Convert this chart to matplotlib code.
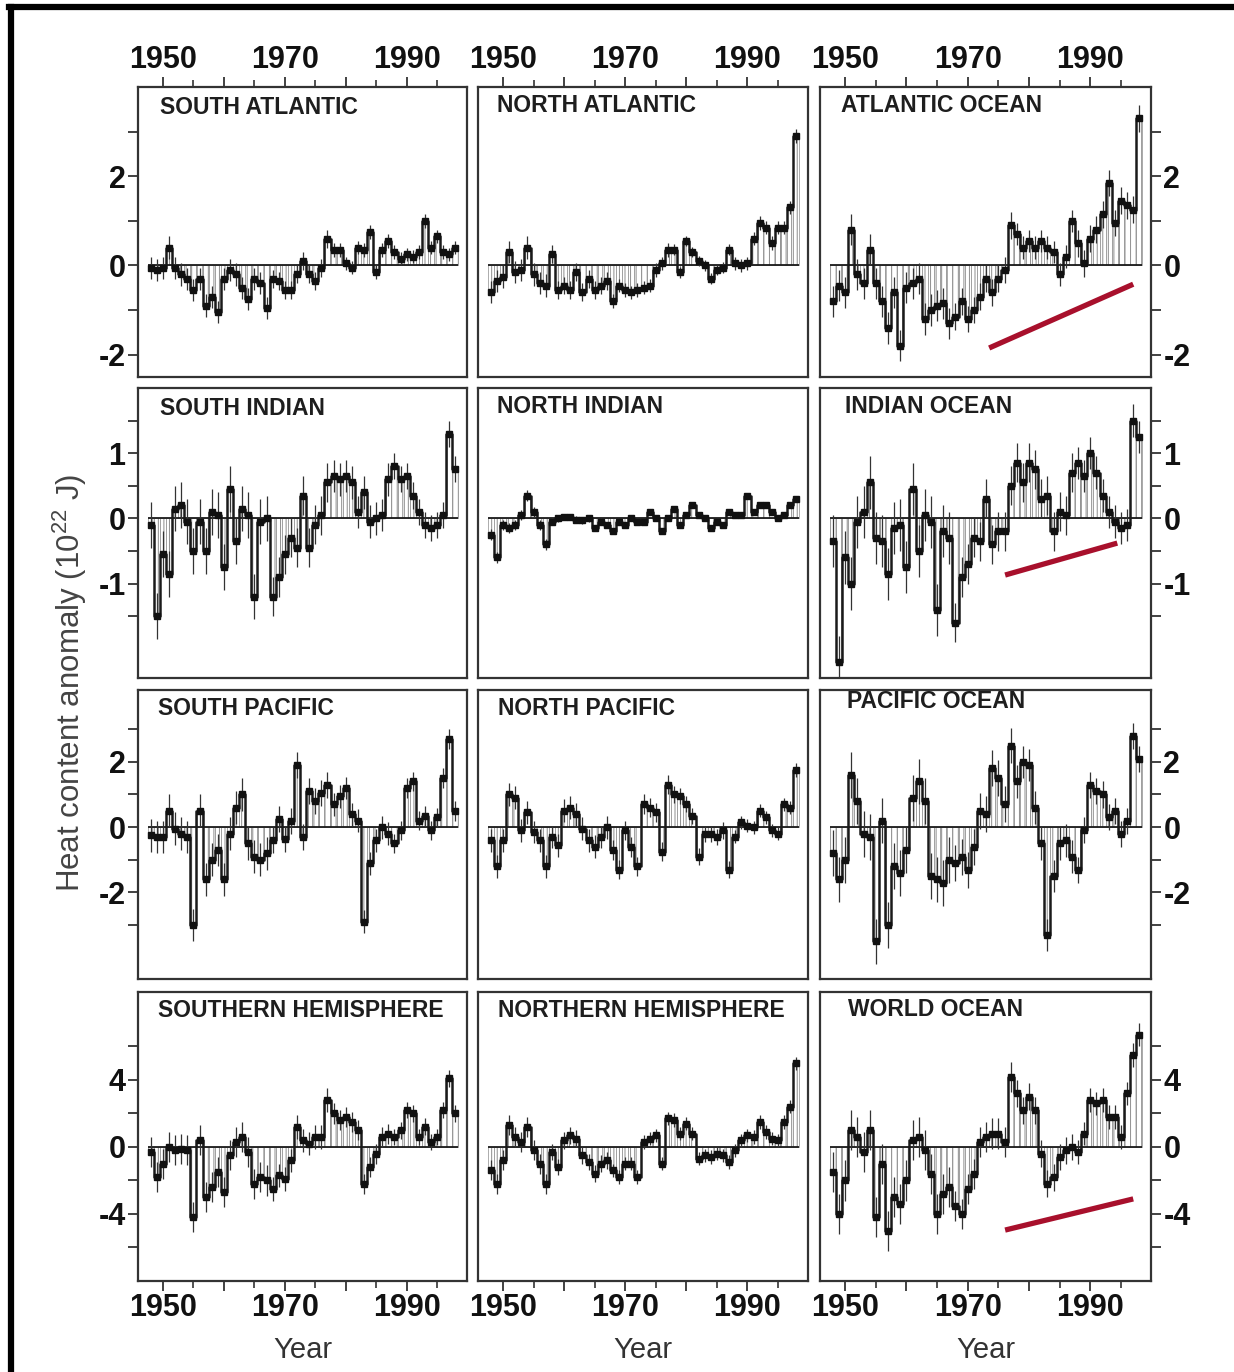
import numpy as np
import matplotlib
matplotlib.use("Agg")
import matplotlib.pyplot as plt
from matplotlib.ticker import MultipleLocator, FuncFormatter, FixedLocator
from matplotlib.lines import Line2D

plt.rcParams['font.family'] = ['Liberation Sans', 'DejaVu Sans']
plt.rcParams['mathtext.fontset'] = 'custom'
plt.rcParams['mathtext.rm'] = 'Liberation Sans'
plt.rcParams['hatch.linewidth'] = 0.7

# ---------------- data (annual heat content anomaly, 10^22 J) ----------------
years = list(range(1948, 1999))

south_atlantic = [-0.05, -0.1, -0.05, 0.4, -0.05, -0.2, -0.3, -0.55, -0.3, -0.9,
                  -0.7, -1.05, -0.3, -0.1, -0.2, -0.5, -0.75, -0.3, -0.4, -0.95,
                  -0.3, -0.35, -0.55, -0.55, -0.2, 0.1, -0.2, -0.35, -0.05, 0.6,
                  0.35, 0.35, 0.05, -0.05, 0.4, 0.35, 0.75, -0.15, 0.35, 0.55,
                  0.3, 0.15, 0.25, 0.2, 0.3, 1.0, 0.4, 0.65, 0.3, 0.25, 0.4]
north_atlantic = [-0.6, -0.35, -0.25, 0.3, -0.15, -0.1, 0.4, -0.2, -0.4, -0.45,
                  0.25, -0.55, -0.45, -0.55, -0.15, -0.6, -0.3, -0.55, -0.45, -0.35,
                  -0.8, -0.45, -0.55, -0.6, -0.55, -0.5, -0.45, -0.1, 0.05, 0.35,
                  0.35, -0.15, 0.55, 0.3, 0.1, 0.0, -0.3, -0.1, -0.05, 0.35,
                  0.05, 0.0, 0.05, 0.6, 0.95, 0.85, 0.5, 0.85, 0.85, 1.3, 2.9]
atlantic_ocean = [-0.8, -0.45, -0.6, 0.8, -0.2, -0.4, 0.35, -0.4, -0.8, -1.4,
                  -0.6, -1.8, -0.5, -0.4, -0.3, -1.2, -1.0, -0.9, -0.85, -1.3,
                  -1.15, -0.8, -1.2, -1.0, -0.7, -0.3, -0.6, -0.3, -0.1, 0.9,
                  0.7, 0.4, 0.55, 0.4, 0.55, 0.4, 0.3, -0.2, 0.2, 1.0,
                  0.5, 0.05, 0.6, 0.8, 1.15, 1.85, 0.95, 1.45, 1.35, 1.25, 3.3]
south_indian = [-0.1, -1.5, -0.55, -0.85, 0.15, 0.2, -0.05, -0.5, -0.05, -0.5,
                0.1, 0.05, -0.75, 0.45, -0.35, 0.15, 0.05, -1.2, -0.05, 0.0,
                -1.2, -0.9, -0.55, -0.3, -0.45, 0.35, -0.45, -0.1, 0.05, 0.55,
                0.65, 0.6, 0.65, 0.55, 0.1, 0.4, -0.05, 0.0, 0.05, 0.6,
                0.8, 0.6, 0.65, 0.35, 0.1, -0.1, -0.15, -0.1, 0.05, 1.3, 0.75]
north_indian = [-0.25, -0.6, -0.1, -0.15, -0.1, 0.05, 0.35, 0.1, -0.1, -0.4,
                -0.05, 0.0, 0.02, 0.02, -0.02, -0.03, 0.0, -0.15, -0.05, -0.1,
                -0.2, -0.05, -0.1, 0.0, -0.05, -0.05, 0.1, 0.0, -0.2, 0.0,
                0.15, -0.1, 0.05, 0.2, 0.05, 0.0, -0.15, -0.05, -0.1, 0.1,
                0.05, 0.05, 0.35, 0.1, 0.2, 0.2, 0.1, 0.0, 0.05, 0.2, 0.3]
indian_ocean = [-0.35, -2.2, -0.6, -1.0, -0.05, 0.1, 0.55, -0.3, -0.35, -0.85,
                -0.15, -0.1, -0.75, 0.45, -0.5, 0.05, -0.05, -1.4, -0.2, -0.3,
                -1.6, -0.9, -0.7, -0.3, -0.35, 0.3, -0.4, -0.2, -0.2, 0.5,
                0.85, 0.55, 0.85, 0.75, 0.3, 0.35, -0.2, 0.1, 0.05, 0.7,
                0.85, 0.65, 1.0, 0.7, 0.35, 0.1, -0.05, -0.15, -0.1, 1.5, 1.25]
south_pacific = [-0.25, -0.3, -0.3, 0.5, -0.05, -0.2, -0.3, -3.0, 0.5, -1.6,
                 -1.0, -0.7, -1.6, -0.2, 0.6, 1.0, -0.5, -0.9, -1.0, -0.8,
                 -0.4, 0.25, -0.35, 0.2, 1.9, -0.3, 1.1, 0.8, 1.05, 1.3,
                 0.7, 0.95, 1.2, 0.4, 0.2, -2.9, -1.1, -0.4, 0.0, -0.2,
                 -0.5, -0.1, 1.2, 1.4, 0.2, 0.35, -0.1, 0.3, 1.5, 2.7, 0.5]
north_pacific = [-0.4, -1.2, -0.4, 1.0, 0.9, -0.1, 0.45, -0.15, -0.4, -1.2,
                 -0.3, -0.55, 0.5, 0.6, 0.4, -0.05, -0.4, -0.6, -0.3, 0.0,
                 -0.7, -1.3, -0.1, -0.6, -1.2, 0.7, 0.6, 0.45, -0.75, 1.3,
                 1.0, 0.95, 0.7, 0.35, -0.9, -0.2, -0.2, -0.3, -0.1, -1.3,
                 -0.3, 0.15, 0.05, 0.0, 0.5, 0.3, -0.1, -0.2, 0.7, 0.6, 1.75]
pacific_ocean = [-0.8, -1.6, -1.0, 1.6, 0.8, -0.2, -0.3, -3.5, 0.2, -3.0,
                 -1.2, -1.4, -0.7, 0.9, 1.4, 0.8, -1.5, -1.6, -1.7, -1.0,
                 -1.1, -0.9, -1.3, -0.6, 0.5, 0.4, 1.8, 1.5, 0.7, 2.5,
                 1.4, 2.0, 1.9, 0.6, -0.5, -3.3, -1.5, -0.5, -0.4, -0.9,
                 -1.3, -0.1, 1.3, 1.1, 1.0, 0.3, 0.5, -0.2, 0.2, 2.8, 2.1]
southern_hemisphere = [-0.3, -1.8, -1.0, 0.0, -0.2, -0.1, -0.2, -4.2, 0.4, -3.0,
                       -2.4, -1.5, -2.7, -0.5, 0.3, 0.6, -0.3, -2.2, -1.8, -2.0,
                       -2.5, -1.7, -1.9, -0.8, 1.2, 0.4, 0.2, 0.6, 0.6, 2.8,
                       2.0, 1.6, 1.8, 1.5, 1.0, -2.2, -1.2, -0.4, 0.6, 0.8,
                       0.6, 1.0, 2.2, 2.0, 0.6, 1.2, 0.3, 0.6, 2.2, 4.1, 2.0]
northern_hemisphere = [-1.4, -2.2, -0.8, 1.3, 0.6, 0.3, 1.2, -0.2, -1.0, -2.2,
                       -0.3, -1.2, 0.4, 0.7, 0.5, -0.5, -0.9, -1.6, -1.0, -0.8,
                       -1.4, -1.8, -1.0, -1.0, -1.8, 0.3, 0.5, 0.7, -1.0, 1.7,
                       1.6, 0.8, 1.4, 0.8, -0.7, -0.5, -0.6, -0.4, -0.5, -0.9,
                       -0.2, 0.4, 0.7, 0.6, 1.5, 0.9, 0.5, 0.4, 1.5, 2.4, 5.0]
world_ocean = [-1.5, -4.0, -2.0, 1.0, 0.6, -0.3, 1.0, -4.2, -1.0, -5.0,
               -3.0, -3.4, -2.0, 0.4, 0.6, -0.2, -1.6, -4.0, -2.8, -2.4,
               -3.5, -4.0, -2.5, -1.6, 0.3, 0.6, 0.8, 0.8, 0.3, 4.2,
               3.2, 2.2, 3.0, 2.2, -0.4, -2.2, -1.8, -0.6, -0.2, 0.0,
               -0.3, 0.8, 2.8, 2.6, 2.8, 1.8, 1.8, 0.6, 3.2, 5.5, 6.7]

# typical error bar half-widths for the periods 1948-57, 58-67, 68-77, 78-87, 88-98
err_south_atlantic = [0.25, 0.25, 0.2, 0.15, 0.15]
err_north_atlantic = [0.25, 0.2, 0.15, 0.12, 0.15]
err_atlantic_ocean = [0.35, 0.35, 0.3, 0.25, 0.3]
err_south_indian = [0.35, 0.35, 0.3, 0.25, 0.2]
err_north_indian = [0.08, 0.05, 0.04, 0.04, 0.04]
err_indian_ocean = [0.4, 0.4, 0.3, 0.3, 0.25]
err_south_pacific = [0.5, 0.5, 0.4, 0.35, 0.3]
err_north_pacific = [0.35, 0.35, 0.3, 0.25, 0.2]
err_pacific_ocean = [0.7, 0.7, 0.55, 0.5, 0.4]
err_southern_hemisphere = [0.9, 0.9, 0.7, 0.6, 0.5]
err_northern_hemisphere = [0.6, 0.5, 0.4, 0.4, 0.4]
err_world_ocean = [1.2, 1.2, 0.9, 0.8, 0.7]

titles = ["SOUTH ATLANTIC", "NORTH ATLANTIC", "ATLANTIC OCEAN",
          "SOUTH INDIAN", "NORTH INDIAN", "INDIAN OCEAN",
          "SOUTH PACIFIC", "NORTH PACIFIC", "PACIFIC OCEAN",
          "SOUTHERN HEMISPHERE", "NORTHERN HEMISPHERE", "WORLD OCEAN"]
series = [south_atlantic, north_atlantic, atlantic_ocean,
          south_indian, north_indian, indian_ocean,
          south_pacific, north_pacific, pacific_ocean,
          southern_hemisphere, northern_hemisphere, world_ocean]
errors = [err_south_atlantic, err_north_atlantic, err_atlantic_ocean,
          err_south_indian, err_north_indian, err_indian_ocean,
          err_south_pacific, err_north_pacific, err_pacific_ocean,
          err_southern_hemisphere, err_northern_hemisphere, err_world_ocean]

# red trend annotations (year, value)
trend_atlantic = ([1973.5, 1997.0], [-1.85, -0.42])
trend_indian = ([1976.1, 1994.4], [-0.87, -0.38])
trend_world = ([1976.1, 1997.0], [-4.96, -3.1])
trends = {2: trend_atlantic, 5: trend_indian, 11: trend_world}

x_labels = [1950, 1970, 1990]
# y ticks per row and which of them carry a label
row_yticks = [[-2, -1, 0, 1, 2, 3],
              [-1.5, -1, -0.5, 0, 0.5, 1, 1.5],
              [-3, -2, -1, 0, 1, 2, 3],
              [-6, -4, -2, 0, 2, 4, 6]]
row_ylabels = [[-2, 0, 2], [-1, 0, 1], [-2, 0, 2], [-4, 0, 4]]

# ---------------- layout ----------------
W, H = 1234, 1372
fig = plt.figure(figsize=(W / 100, H / 100), dpi=100)
fig.patch.set_facecolor('white')

cols = [(138, 467), (478, 808), (820, 1151)]
rows = [(87, 377), (388, 678), (690, 979), (992, 1281)]
row_ylims = [(-2.5, 4.0), (-2.45, 2.0), (-4.65, 4.2), (-8.0, 9.25)]
title_dx = [0.067, 0.058, 0.064, 0.067, 0.058, 0.076, 0.062, 0.06, 0.082, 0.062, 0.06, 0.085]
title_y = [0.928, 0.935, 0.935, 0.93, 0.935, 0.935, 0.935, 0.935, 0.96, 0.935, 0.935, 0.94]

frame_col = '#333333'
ink = '#1a1a1a'


def ylab_fmt(labels):
    def f(v, p):
        for lv in labels:
            if abs(v - lv) < 1e-6:
                return f"{lv:g}"
        return ""
    return FuncFormatter(f)


for i in range(12):
    r, c = divmod(i, 3)
    l, rr = cols[c]
    t, b = rows[r]
    ax = fig.add_axes([l / W, 1 - b / H, (rr - l) / W, (b - t) / H])
    vals = np.array(series[i], dtype=float)
    yrs = np.array(years, dtype=float)
    errs = np.array([errors[i][min(k // 10, 4)] for k in range(len(years))])

    ax.bar(yrs, vals, width=1.0, color='white', edgecolor='#8c8c8c',
           linewidth=0.5, hatch='|||', zorder=2)
    ax.hlines(0, yrs[0] - 0.5, yrs[-1] + 0.5, color=ink, lw=1.3, zorder=3)
    ax.step(yrs, vals, where='mid', color=ink, lw=1.8, zorder=4)
    ax.errorbar(yrs, vals, yerr=errs, fmt='s', ms=4.5, color='#111111',
                ecolor='#333333', elinewidth=0.9, capsize=0, zorder=5)

    if i in trends:
        tx, ty = trends[i]
        ax.plot(tx, ty, color='#A8102C', lw=3.8, solid_capstyle='butt', zorder=6)

    ax.set_xlim(1945.9, 1999.9)
    ax.set_ylim(*row_ylims[r])

    for sp in ax.spines.values():
        sp.set_color(frame_col)
        sp.set_linewidth(1.6)

    ax.xaxis.set_major_locator(FixedLocator([1950, 1960, 1970, 1980, 1990]))
    ax.xaxis.set_minor_locator(FixedLocator([1955, 1965, 1975, 1985, 1995]))
    ax.xaxis.set_major_formatter(FuncFormatter(
        lambda v, p: f"{int(round(v))}" if int(round(v)) in x_labels else ""))
    ax.yaxis.set_major_locator(FixedLocator(row_yticks[r]))
    ax.yaxis.set_major_formatter(ylab_fmt(row_ylabels[r]))

    ax.tick_params(axis='both', which='major', length=7, width=1.3,
                   color=frame_col, labelsize=22, labelcolor='#111111', pad=2)
    ax.tick_params(axis='x', which='minor', length=5, width=1.2, color=frame_col)
    ax.tick_params(axis='x', top=(r == 0), labeltop=(r == 0),
                   bottom=(r == 3), labelbottom=(r == 3), which='both')
    ax.tick_params(axis='y', left=(c == 0), labelleft=(c == 0),
                   right=(c == 2), labelright=(c == 2), which='both')
    for lab in ax.get_xticklabels() + ax.get_yticklabels():
        lab.set_fontweight('bold')

    ax.text(title_dx[i], title_y[i], titles[i], transform=ax.transAxes,
            ha='left', va='center', fontsize=16.5, fontweight='bold', color='#1e1e1e')

    if r == 3:
        fig.text(((l + rr) / 2) / W, 1 - 1350 / H, "Year", ha='center', va='center',
                 fontsize=21, color='#333333')

fig.text(70 / W, 1 - 683 / H, "Heat content anomaly (10$^{22}$ J)", rotation=90,
         ha='center', va='center', fontsize=22.5, color='#444444')

# outer black frame (left and top edges)
fig.add_artist(Line2D([11 / W, 11 / W], [0, 1 - 7 / H], transform=fig.transFigure,
                      color='black', lw=4.5))
fig.add_artist(Line2D([9 / W, 1], [1 - 7 / H, 1 - 7 / H], transform=fig.transFigure,
                      color='black', lw=4.5))

fig.savefig("out.png", dpi=100)
